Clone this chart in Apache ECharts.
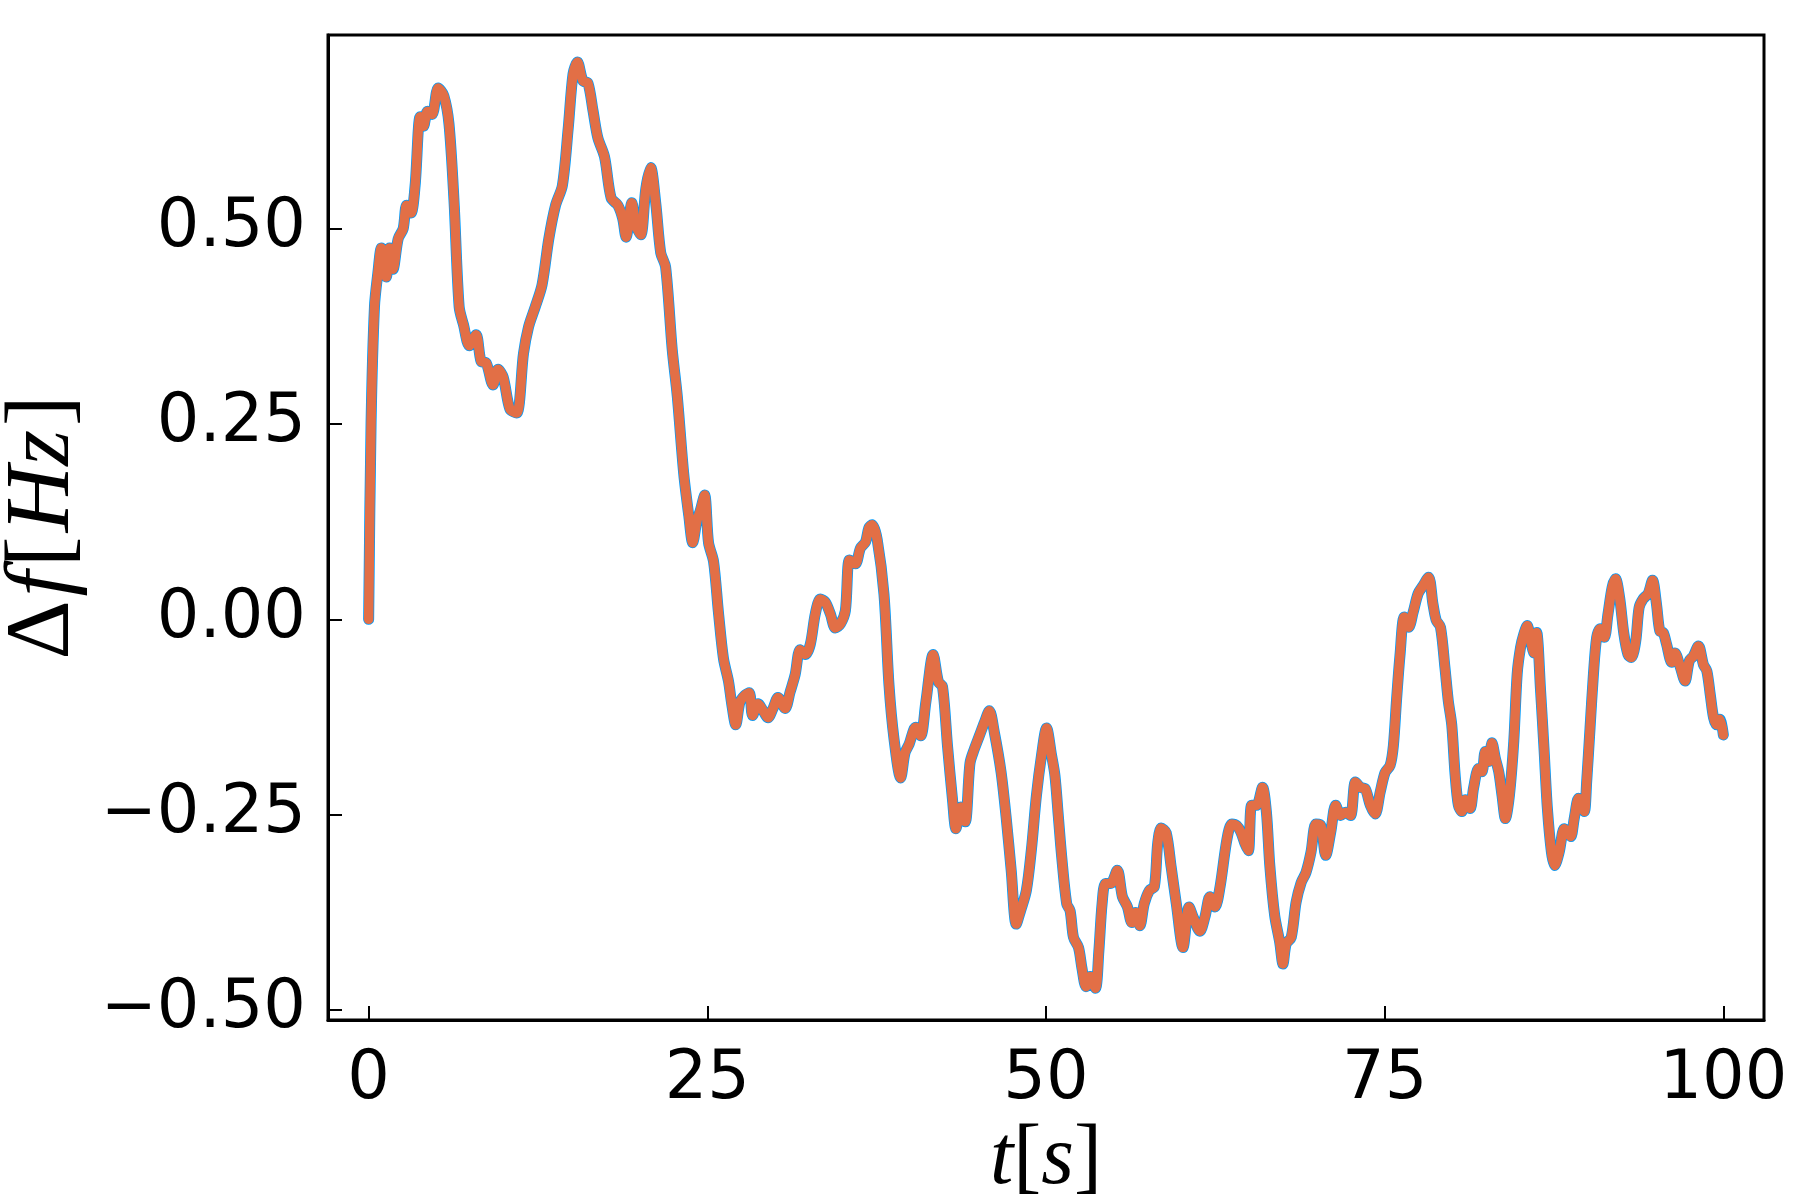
<!DOCTYPE html>
<html>
<head>
<meta charset="utf-8">
<script src="https://cdn.jsdelivr.net/npm/echarts@6/dist/echarts.min.js"></script>
<style>
html,body{margin:0;padding:0;background:#fff;}
#chart{width:1800px;height:1200px;}
</style>
</head>
<body>
<div id="chart"></div>
<script>
// time samples [s]
const tValues = [
0,0.18,0.43,0.68,0.93,1.3,1.55,1.8,2.18,2.55,2.8,3.13,3.43,3.8,4.05,4.35,4.68,5.13,5.55,5.93,6.3,6.68,7.0,7.43,7.93,8.3,8.68,9.18,9.55,9.93,10.43,10.93,11.43,11.8,12.3,12.8,13.3,13.8,14.3,
14.73,15.09,15.41,15.82,16.19,16.56,16.92,17.41,17.9,18.39,18.75,19.0,19.43,19.73,20.09,20.46,20.82,21.19,21.56,21.92,22.41,22.78,23.26,23.63,23.92,24.24,24.48,24.8,25.09,25.46,25.82,26.19,26.56,26.8,27.1,27.41,27.78,28.1,28.34,28.75,29.12,29.48,29.85,30.22,
30.74,31.11,31.48,31.85,32.23,32.6,32.97,33.34,33.71,34.08,34.45,34.82,35.19,35.49,35.93,36.3,36.68,36.92,37.17,37.54,38.04,38.41,38.78,39.27,39.59,39.89,40.38,40.75,41.13,41.67,42.06,42.36,42.73,43.1,43.35,43.72,44.04,44.39,44.71,45.08,45.45,45.82,46.19,
46.68,47.05,47.43,47.8,48.12,48.55,48.92,49.29,49.67,50.04,50.41,50.66,50.91,51.16,51.53,51.78,52.03,52.4,52.65,52.95,53.27,53.65,53.9,54.14,54.39,54.77,55.26,55.64,56.01,56.33,56.63,56.93,57.25,57.63,58.0,58.25,58.5,58.87,59.24,59.62,60.11,60.56,60.86,61.36,61.73,62.1,62.48,62.85,
63.36,63.72,64.08,64.38,64.69,64.94,65.18,65.54,65.98,66.27,66.52,66.88,67.25,67.49,67.73,68.1,68.46,68.83,69.19,69.56,69.92,70.29,70.65,71.02,71.38,71.75,72.11,72.48,72.84,73.21,73.57,73.94,74.3,74.67,75.03,75.4,75.64,75.88,76.13,76.44,76.78,77.1,77.47,77.83,78.24,78.56,78.8,79.12,
79.45,79.7,79.95,80.2,80.44,80.69,80.94,81.31,81.56,81.93,82.18,82.42,82.67,82.92,83.17,83.42,83.66,83.91,84.21,84.53,84.78,85.03,85.27,85.52,85.77,86.02,86.22,86.51,86.76,87.01,87.31,87.55,87.88,88.25,88.5,88.74,88.99,89.31,89.49,89.74,89.91,90.16,90.41,90.65,90.9,91.22,91.47,91.79,92.04,92.34,92.66,92.96,93.21,93.53,93.78,94.07,94.45,94.77,95.06,95.31,95.56,95.81,96.18,96.43,96.8,97.17,97.49,97.79,98.16,98.53,98.78,99.03,99.28,99.52,99.75,100
];
// frequency deviation [Hz]
const dfValues = [
0,0.252,0.40,0.443,0.475,0.438,0.475,0.448,0.487,0.50,0.53,0.52,0.555,0.643,0.631,0.65,0.646,0.68,0.67,0.634,0.536,0.40,0.377,0.35,0.364,0.33,0.328,0.30,0.32,0.31,0.269,0.264,0.34,0.374,0.40,0.428,0.487,0.53,0.555,
0.628,0.698,0.713,0.689,0.686,0.651,0.616,0.592,0.539,0.530,0.513,0.489,0.533,0.504,0.492,0.551,0.578,0.533,0.469,0.451,0.345,0.286,0.186,0.133,0.098,0.127,0.139,0.159,0.098,0.074,0.009,-0.05,-0.079,-0.108,-0.135,-0.106,-0.097,-0.094,-0.123,-0.108,-0.117,-0.126,-0.114,-0.100,
-0.114,-0.093,-0.071,-0.039,-0.045,-0.032,0.007,0.026,0.022,0.007,-0.011,-0.006,0.011,0.076,0.071,0.091,0.099,0.117,0.121,0.102,0.032,-0.084,-0.153,-0.203,-0.171,-0.16,-0.138,-0.149,-0.106,-0.045,-0.08,-0.086,-0.162,-0.231,-0.268,-0.24,-0.259,-0.184,-0.166,-0.149,-0.132,-0.117,-0.145,
-0.195,-0.252,-0.321,-0.39,-0.373,-0.347,-0.295,-0.226,-0.174,-0.139,-0.174,-0.2,-0.252,-0.304,-0.364,-0.373,-0.407,-0.42,-0.446,-0.47,-0.457,-0.472,-0.425,-0.364,-0.338,-0.338,-0.321,-0.355,-0.368,-0.388,-0.375,-0.392,-0.364,-0.347,-0.342,-0.286,-0.267,-0.273,-0.317,-0.364,-0.42,-0.368,-0.381,-0.399,-0.381,-0.355,-0.368,-0.342,
-0.281,-0.262,-0.264,-0.272,-0.287,-0.296,-0.238,-0.238,-0.215,-0.247,-0.315,-0.379,-0.413,-0.441,-0.415,-0.407,-0.362,-0.337,-0.324,-0.298,-0.262,-0.264,-0.302,-0.272,-0.238,-0.251,-0.247,-0.251,-0.208,-0.215,-0.217,-0.238,-0.249,-0.221,-0.196,-0.187,-0.162,-0.102,-0.046,0.003,-0.01,0.009,0.033,0.043,0.054,0.02,-0.001,-0.01,
-0.062,-0.105,-0.135,-0.199,-0.238,-0.246,-0.231,-0.242,-0.216,-0.191,-0.195,-0.169,-0.182,-0.158,-0.178,-0.195,-0.225,-0.255,-0.225,-0.156,-0.07,-0.036,-0.019,-0.008,-0.027,-0.043,-0.017,-0.092,-0.165,-0.242,-0.298,-0.315,-0.298,-0.268,-0.272,-0.278,-0.255,-0.229,-0.233,-0.246,-0.208,-0.139,-0.07,-0.023,-0.012,-0.023,0.005,0.041,0.052,0.028,-0.019,-0.045,-0.049,-0.028,0.015,0.026,0.033,0.05,0.02,-0.015,-0.017,-0.032,-0.055,-0.043,-0.06,-0.079,-0.053,-0.047,-0.034,-0.058,-0.066,-0.096,-0.126,-0.135,-0.128,-0.148
];
const xTicks = [0, 25, 50, 75, 100];
const yTicks = [-0.5, -0.25, 0, 0.25, 0.5];

const pts = tValues.map((t, i) => [t, dfValues[i]]);
const chart = echarts.init(document.getElementById('chart'), null, {renderer: 'canvas'});
const labelFont = 'DejaVu Sans';
const mathFont = 'Liberation Serif';
chart.setOption({
  animation: false,
  backgroundColor: '#ffffff',
  grid: {left: 328, right: 36, top: 35, bottom: 180, show: true, borderColor: '#000', borderWidth: 3,
    backgroundColor: 'transparent', containLabel: false, outerBoundsMode: 'none'},
  xAxis: {
    type: 'value', min: -3, max: 103,
    name: '{i|t}{n|[}{i|s}{n|]}', nameLocation: 'middle', nameGap: 94,
    nameTextStyle: {rich: {
      i: {fontFamily: mathFont, fontStyle: 'italic', fontSize: 84, color: '#000'},
      n: {fontFamily: mathFont, fontSize: 84, color: '#000'}
    }},
    axisLine: {show: true, onZero: false, lineStyle: {color: '#000', width: 3}},
    axisTick: {show: true, inside: true, length: 14, customValues: xTicks, lineStyle: {color: '#000', width: 2}},
    axisLabel: {show: true, customValues: xTicks, fontFamily: labelFont, fontSize: 67, color: '#000', margin: 27,
      formatter: v => String(v).replace('-', '\u2212')},
    splitLine: {show: false}
  },
  yAxis: {
    type: 'value', min: -0.5127, max: 0.7477,
    name: '{n|Δ}{i|f}{n|[}{i|Hz}{n|]}', nameLocation: 'middle', nameGap: 230,
    nameTextStyle: {rich: {
      i: {fontFamily: mathFont, fontStyle: 'italic', fontSize: 92, color: '#000', padding: [0, 4, 0, 4]},
      n: {fontFamily: mathFont, fontSize: 92, color: '#000'}
    }},
    axisLine: {show: true, onZero: false, lineStyle: {color: '#000', width: 3}},
    axisTick: {show: true, inside: true, length: 14, customValues: yTicks, lineStyle: {color: '#000', width: 2}},
    axisLabel: {show: true, customValues: yTicks, fontFamily: labelFont, fontSize: 67, color: '#000', margin: 22,
      formatter: v => v.toFixed(2).replace('-', '\u2212')},
    splitLine: {show: false}
  },
  series: [
    {type: 'line', name: 'a', data: pts, showSymbol: false, symbol: 'none', smooth: 0.3,
      lineStyle: {color: '#009AFA', width: 11, cap: 'round', join: 'round'}, z: 2},
    {type: 'line', name: 'b', data: pts, showSymbol: false, symbol: 'none', smooth: 0.3,
      lineStyle: {color: '#E26F46', width: 9.5, cap: 'round', join: 'round'}, z: 3}
  ]
});
</script>
</body>
</html>
